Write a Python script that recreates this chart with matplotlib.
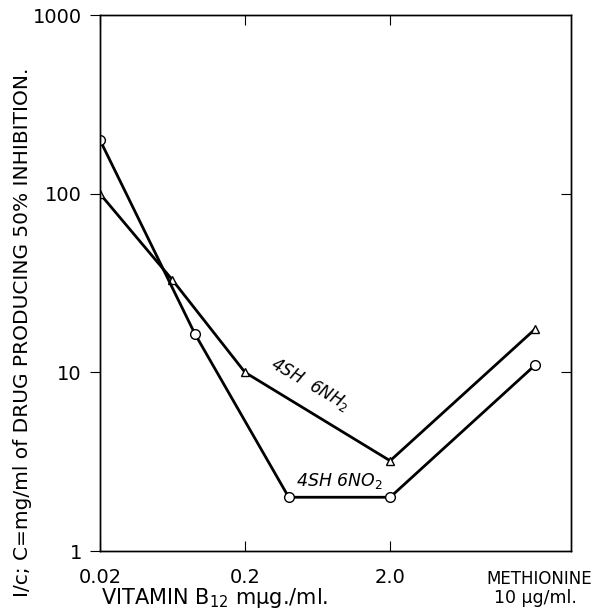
import matplotlib
matplotlib.use("Agg")
import matplotlib.pyplot as plt

# Concentrations (log scale); methionine column drawn at x = 20
x_ticks = [0.02, 0.2, 2.0]
x_tick_labels = ["0.02", "0.2", "2.0"]
methionine_x = 20

# 4SH 6NH2 (triangles)
nh2_x = [0.02, 0.063, 0.2, 2.0, methionine_x]
nh2_y = [100, 33, 10, 3.2, 17.5]

# 4SH 6NO2 (circles)
no2_x = [0.02, 0.09, 0.40, 2.0, methionine_x]
no2_y = [200, 16.5, 2.0, 2.0, 11]

y_ticks = [1, 10, 100, 1000]
y_tick_labels = ["1", "10", "100", "1000"]

fig = plt.figure(figsize=(5.95, 6.09), dpi=100)
ax = fig.add_axes([0.168, 0.0952, 0.792, 0.880])

ax.plot(nh2_x, nh2_y, color="black", lw=2.0, marker="^", ms=6,
        mfc="white", mec="black", mew=1.0)
ax.plot(no2_x, no2_y, color="black", lw=2.0, marker="o", ms=7,
        mfc="white", mec="black", mew=1.0)

ax.set_xscale("log")
ax.set_yscale("log")
ax.set_xlim(0.02, 35.4)
ax.set_ylim(1, 1000)

ax.set_xticks(x_ticks)
ax.set_xticklabels(x_tick_labels, fontsize=14)
ax.xaxis.set_minor_locator(matplotlib.ticker.NullLocator())
ax.tick_params(axis="x", direction="in", top=True, length=7, pad=12)

ax.set_yticks(y_ticks)
ax.set_yticklabels(y_tick_labels, fontsize=14)
ax.yaxis.set_minor_locator(matplotlib.ticker.NullLocator())
ax.tick_params(axis="y", direction="out", length=7, pad=6)

# right-hand ticks point inwards
ax2 = ax.twinx()
ax2.set_yscale("log")
ax2.set_ylim(1, 1000)
ax2.set_yticks([10, 100])
ax2.yaxis.set_minor_locator(matplotlib.ticker.NullLocator())
ax2.tick_params(axis="y", direction="in", length=7, labelright=False)

for a in (ax, ax2):
    for s in a.spines.values():
        s.set_linewidth(1.0)

# curve labels
ax.text(0.56, 8.6, r"4SH  6NH$_2$", fontsize=12, style="italic",
        rotation=-30, ha="center", va="center")
ax.text(0.89, 2.46, r"4SH 6NO$_2$", fontsize=12.5, style="italic",
        ha="center", va="center")

# methionine column label
ax.annotate("METHIONINE", xy=(methionine_x, 0), xycoords=ax.get_xaxis_transform(),
            xytext=(3, -20), textcoords="offset points",
            fontsize=12, ha="center", va="center")
ax.text(methionine_x, -0.088, "10 μg/ml.", transform=ax.get_xaxis_transform(),
        fontsize=12.5, ha="center", va="center")

ax.text(0.244, -0.088, r"VITAMIN B$_{12}$ mμg./ml.", transform=ax.transAxes,
        fontsize=15, ha="center", va="center")

ax.text(-0.165, 0.409, "I/c; C=mg/ml of DRUG PRODUCING 50% INHIBITION.",
        transform=ax.transAxes, fontsize=14.5, rotation=90,
        ha="center", va="center")

fig.savefig("out.png", dpi=100)
